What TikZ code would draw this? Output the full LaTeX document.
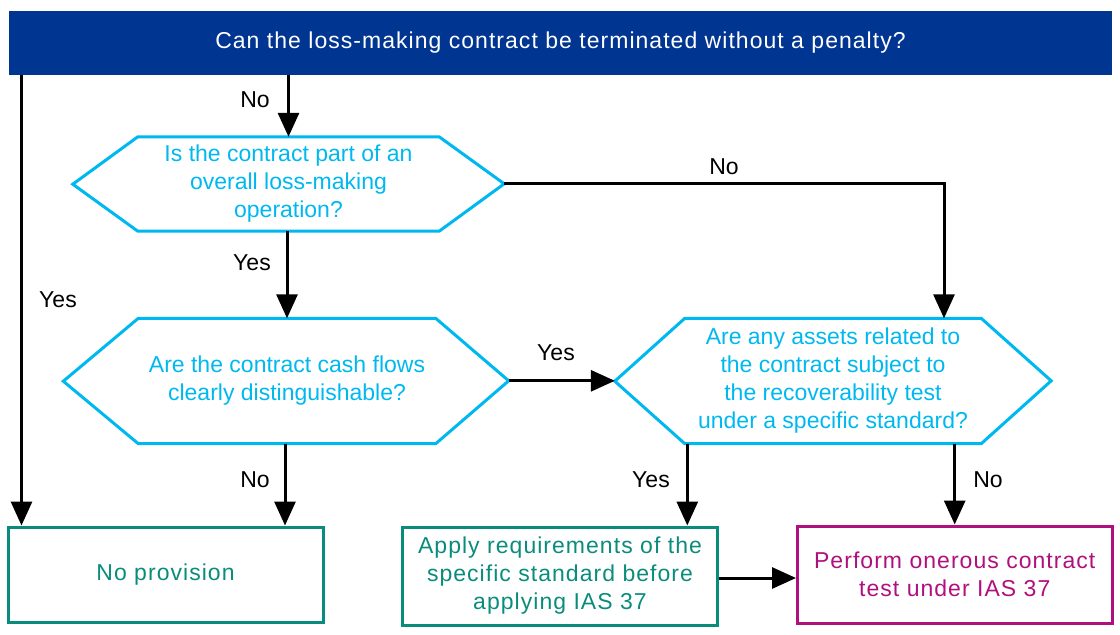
\documentclass[tikz,border=0pt]{standalone}
\usepackage{fontspec}
\setmainfont{Liberation Sans}
\usetikzlibrary{arrows.meta,calc}
\definecolor{barblue}{RGB}{0,53,145}
\definecolor{qcyan}{RGB}{0,184,240}
\definecolor{qteal}{RGB}{10,140,124}
\definecolor{qmag}{RGB}{176,16,126}
\tikzset{
  every node/.style={font=\fontsize{23}{28}\selectfont},
  spaced/.style={font=\fontsize{23}{28}\selectfont\addfontfeatures{LetterSpace=4.5}},
  conn/.style={line width=3pt,-{Triangle[width=21pt,length=24pt]}},
  hexbody/.style={inner sep=0pt,text=qcyan,align=center},
  hexline/.style={draw=qcyan,line width=3pt,line join=miter},
  endbox/.style={draw=#1,text=#1,line width=3pt,inner sep=0pt,align=center,spaced},
  lbl/.style={text=black,inner sep=0pt}
}
\begin{document}
\begin{tikzpicture}[x=1pt,y=-1pt]
\useasboundingbox (0,0) rectangle (1120,635);
% top bar
\node[fill=barblue,text=white,minimum width=1103pt,minimum height=64pt,inner sep=0pt,spaced] (top) at (560.5,43) {Can the loss-making contract be terminated without a penalty?};
% hexagon 1
\node[hexbody,minimum width=301pt,minimum height=94pt] (h1) at (288.5,184) {Is the contract part of an\\overall loss-making\\operation?};
\draw[hexline] (h1.north west) -- (h1.north east) -- ++(65,47) coordinate (h1r) -- (h1.south east) -- (h1.south west) -- ++(-65,-47) coordinate (h1l) -- cycle;
% hexagon 2
\node[hexbody,minimum width=297pt,minimum height=125pt] (h2) at (287,381) {Are the contract cash flows\\clearly distinguishable?};
\draw[hexline] (h2.north west) -- (h2.north east) -- ++(73,62.5) coordinate (h2r) -- (h2.south east) -- (h2.south west) -- ++(-75,-62.5) coordinate (h2l) -- cycle;
% hexagon 3
\node[hexbody,minimum width=296pt,minimum height=125pt] (h3) at (833,381) {Are any assets related to\\the contract subject to\\the recoverability test\\under a specific standard?};
\draw[hexline] (h3.north west) -- (h3.north east) -- ++(70,62.5) coordinate (h3r) -- (h3.south east) -- (h3.south west) -- ++(-70,-62.5) coordinate (h3l) -- cycle;
% end boxes
\node[endbox=qteal,minimum width=315pt,minimum height=95pt] (np) at (165.5,574.5) {No provision};
\node[endbox=qteal,minimum width=314.5pt,minimum height=98pt] (ap) at (560,576) {Apply requirements of the\\specific standard before\\applying IAS 37};
\node[endbox=qmag,minimum width=314.5pt,minimum height=97pt] (pf) at (954.75,574.5) {Perform onerous contract\\test under IAS 37};
% connectors
\draw[conn] (h1.north |- top.south) -- (h1.north);
\node[lbl] (l1) at (255,100) {No};
\coordinate (yL) at (21.5,75);
\draw[conn] (yL) -- (yL |- np.north);
\node[lbl] (l2) at (58,300) {Yes};
\draw[conn] (h1.south -| h2.north) -- (h2.north);
\node[lbl] (l3) at (252,263) {Yes};
\coordinate (cx) at (944,0);
\draw[conn,line join=miter] (h1r) -- (h1r -| cx) -- (cx |- h3.north);
\node[lbl] (l4) at (724,167) {No};
\draw[conn] (h2r) -- (h2r -| h3l);
\node[lbl] (l5) at (556,353) {Yes};
\draw[conn] ([xshift=-2pt]h2.south) -- ([xshift=-2pt]h2.south |- np.north);
\node[lbl] (l6) at (255,480) {No};
\draw[conn] ([xshift=2.5pt]h3.south west) -- ([xshift=2.5pt]h3.south west |- ap.north);
\node[lbl] (l7) at (651,480) {Yes};
\draw[conn] ([xshift=-26.5pt]h3.south east) -- ([xshift=-26.5pt]h3.south east |- pf.north);
\node[lbl] (l8) at (988,480) {No};
\draw[conn] ([yshift=-2pt]ap.east) -- ([yshift=-2pt]ap.east -| pf.west);
\end{tikzpicture}
\end{document}
